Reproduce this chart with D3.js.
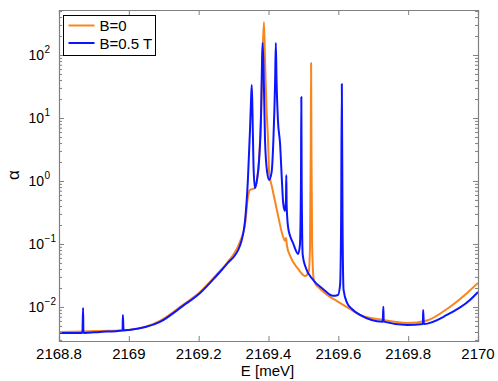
<!DOCTYPE html>
<html>
<head>
<meta charset="utf-8">
<script src="https://cdn.jsdelivr.net/npm/d3@7"></script>
<style>
  body { margin: 0; background: #fff; }
  svg { display: block; font-family: "Liberation Sans", Arial, sans-serif; }
  .frame line, .frame path { stroke: #808080; }
</style>
</head>
<body>
<svg width="498" height="381"></svg>
<script>
// absorption spectra: [E (meV), alpha]
var seriesNames = ["B=0", "B=0.5 T"];
var seriesColors = ["#f8861e", "#0d15ff"];

var alphaB0 = [
  [2168.800, 0.00401], [2168.869, 0.00409], [2168.917, 0.00416], [2169.000, 0.00432],
  [2169.089, 0.00600], [2169.155, 0.0108], [2169.204, 0.0173], [2169.253, 0.0334],
  [2169.281, 0.0499], [2169.318, 0.108], [2169.333, 0.207], [2169.340, 0.499],
  [2169.347, 0.720], [2169.356, 0.747], [2169.361, 0.774], [2169.367, 1.04],
  [2169.373, 2.15], [2169.379, 13.4], [2169.383, 95], [2169.387, 334],
  [2169.390, 83.3], [2169.394, 16.1], [2169.399, 4.01], [2169.402, 1.34],
  [2169.410, 0.803], [2169.424, 0.347],
  [2169.442, 0.129], [2169.447, 0.112], [2169.450, 0.124], [2169.453, 0.0929],
  [2169.462, 0.0645], [2169.485, 0.0401], [2169.505, 0.0311], [2169.515, 0.0359],
  [2169.519, 0.0964], [2169.521, 3.10], [2169.522, 74.6], [2169.523, 3.10],
  [2169.525, 0.0964], [2169.529, 0.0289], [2169.533, 0.0240], [2169.542, 0.0208],
  [2169.568, 0.0155], [2169.596, 0.0124], [2169.633, 0.00929], [2169.662, 0.00746],
  [2169.728, 0.00622], [2169.797, 0.00557], [2169.854, 0.00611], [2169.911, 0.00929],
  [2169.969, 0.0167], [2170.000, 0.0240]
];

var alphaB05 = [
  [2168.800, 0.00387], [2168.867, 0.00387], [2168.869, 0.00964], [2168.870, 0.00387],
  [2168.917, 0.00401], [2168.982, 0.00424], [2168.983, 0.00746], [2168.985, 0.00424],
  [2169.000, 0.00432], [2169.089, 0.00578], [2169.155, 0.0104], [2169.204, 0.0167],
  [2169.253, 0.0322], [2169.281, 0.0481], [2169.318, 0.0929], [2169.333, 0.240],
  [2169.341, 1.04], [2169.347, 6.46], [2169.350, 19.3], [2169.352, 33.4],
  [2169.354, 13.4], [2169.357, 1.80], [2169.361, 0.774], [2169.367, 1.04],
  [2169.373, 2.15], [2169.379, 13.4], [2169.381, 57.8], [2169.383, 155],
  [2169.386, 57.8], [2169.390, 4.48], [2169.396, 1.39], [2169.402, 1.04],
  [2169.409, 1.39], [2169.414, 4.48], [2169.419, 40.1], [2169.421, 155],
  [2169.423, 40.1], [2169.427, 9.29], [2169.433, 4.01], [2169.439, 0.865],
  [2169.442, 0.448], [2169.447, 0.334], [2169.450, 0.499], [2169.451, 1.24],
  [2169.452, 0.416], [2169.456, 0.186], [2169.462, 0.134], [2169.470, 0.104],
  [2169.485, 0.0694], [2169.490, 0.0964], [2169.493, 1.04], [2169.494, 21.5],
  [2169.495, 1.04], [2169.498, 0.0669], [2169.505, 0.0448], [2169.528, 0.0268],
  [2169.556, 0.0193], [2169.585, 0.0150], [2169.599, 0.0155], [2169.605, 0.0223],
  [2169.608, 0.240], [2169.610, 34.7], [2169.612, 0.240], [2169.615, 0.0186],
  [2169.625, 0.0116], [2169.639, 0.00929], [2169.662, 0.00746], [2169.727, 0.00584],
  [2169.729, 0.0101], [2169.730, 0.00584], [2169.797, 0.00518], [2169.842, 0.00537],
  [2169.843, 0.00896], [2169.845, 0.00537], [2169.911, 0.00746], [2169.977, 0.0129],
  [2170.000, 0.0173]
];

var xTicks = [2168.8, 2169, 2169.2, 2169.4, 2169.6, 2169.8, 2170];
var yDecades = [-2, -1, 0, 1, 2];

var svg = d3.select("svg"),
    margin = {top: 10, right: 20, bottom: 40, left: 59},
    width = 419,
    height = 331,
    g = svg.append("g").attr("transform", "translate(" + margin.left + "," + margin.top + ")");

var xScale = d3.scaleLinear().domain([2168.8, 2170]).range([0, width]),
    yScale = d3.scaleLog().domain([0.00288, 518]).range([height, 0]);

// minor ticks 2..9 in every decade inside the domain
var minorTicks = [];
for (var p = -3; p <= 2; p++) {
  for (var k = 2; k <= 9; k++) {
    var v = k * Math.pow(10, p);
    if (v >= yScale.domain()[0] && v <= yScale.domain()[1]) minorTicks.push(v);
  }
}
var majorY = yDecades.map(function(e) { return Math.pow(10, e); });

var line = d3.line()
    .curve(d3.curveMonotoneX)
    .x(function(d) { return xScale(d[0]); })
    .y(function(d) { return yScale(d[1]); });

// curves (clip to the axes box)
svg.append("defs").append("clipPath").attr("id", "clip")
  .append("rect").attr("width", width).attr("height", height);

var plot = g.append("g").attr("clip-path", "url(#clip)");
[alphaB0, alphaB05].forEach(function(data, i) {
  plot.append("path")
      .attr("d", line(data))
      .attr("fill", "none")
      .attr("stroke", seriesColors[i])
      .attr("stroke-width", 2)
      .attr("stroke-linejoin", "round");
});

// axes box with inward ticks on all four sides
function frameAxis(axis, tx, ty) {
  var a = g.append("g").attr("class", "frame")
      .attr("transform", "translate(" + tx + "," + ty + ")")
      .call(axis);
  a.selectAll("text").remove();
  return a;
}
frameAxis(d3.axisBottom(xScale).tickValues(xTicks).tickSize(-5).tickFormat(""), 0, height);
frameAxis(d3.axisTop(xScale).tickValues(xTicks).tickSize(-5).tickFormat(""), 0, 0);
frameAxis(d3.axisLeft(yScale).tickValues(majorY).tickSize(-5).tickFormat(""), 0, 0);
frameAxis(d3.axisLeft(yScale).tickValues(minorTicks).tickSize(-3).tickFormat(""), 0, 0).select(".domain").remove();
frameAxis(d3.axisRight(yScale).tickValues(majorY).tickSize(-5).tickFormat(""), width, 0);
frameAxis(d3.axisRight(yScale).tickValues(minorTicks).tickSize(-3).tickFormat(""), width, 0).select(".domain").remove();
g.selectAll(".frame .domain").attr("stroke-width", 1.2);

// tick labels
g.selectAll(".xlab").data(xTicks).enter().append("text")
    .attr("class", "xlab")
    .attr("x", function(d) { return xScale(d); })
    .attr("y", height + 18)
    .attr("text-anchor", "middle")
    .style("font-size", "15px")
    .text(function(d) { return d3.format("")(d); });

var ylab = g.selectAll(".ylab").data(yDecades).enter().append("text")
    .attr("class", "ylab")
    .attr("x", -30.5)
    .attr("y", function(d) { return yScale(Math.pow(10, d)) + 5; })
    .style("font-size", "14px");
ylab.append("tspan").text("10");
ylab.append("tspan")
    .attr("dy", -7)
    .attr("dx", 0.5)
    .style("font-size", "10px")
    .text(function(d) { return d < 0 ? "\u2212" + (-d) : d; });

// axis titles
svg.append("text")
    .attr("x", margin.left + width / 2 - 1)
    .attr("y", 376)
    .attr("text-anchor", "middle")
    .style("font-size", "15px")
    .text("E [meV]");

svg.append("text")
    .attr("transform", "translate(19,175) rotate(-90)")
    .attr("text-anchor", "middle")
    .style("font-size", "17px")
    .text("\u03b1");

// legend
var legend = g.append("g").attr("transform", "translate(4.5,5.5)");
legend.append("rect")
    .attr("width", 92)
    .attr("height", 40)
    .attr("fill", "#fff")
    .attr("stroke", "#000")
    .attr("stroke-width", 1);
seriesNames.forEach(function(name, i) {
  var yy = 10 + i * 17.5;
  legend.append("line")
      .attr("x1", 5).attr("x2", 31)
      .attr("y1", yy).attr("y2", yy)
      .attr("stroke", seriesColors[i])
      .attr("stroke-width", 2);
  legend.append("text")
      .attr("x", 36)
      .attr("y", yy + 5.5)
      .style("font-size", "15px")
      .text(name);
});
</script>
</body>
</html>
